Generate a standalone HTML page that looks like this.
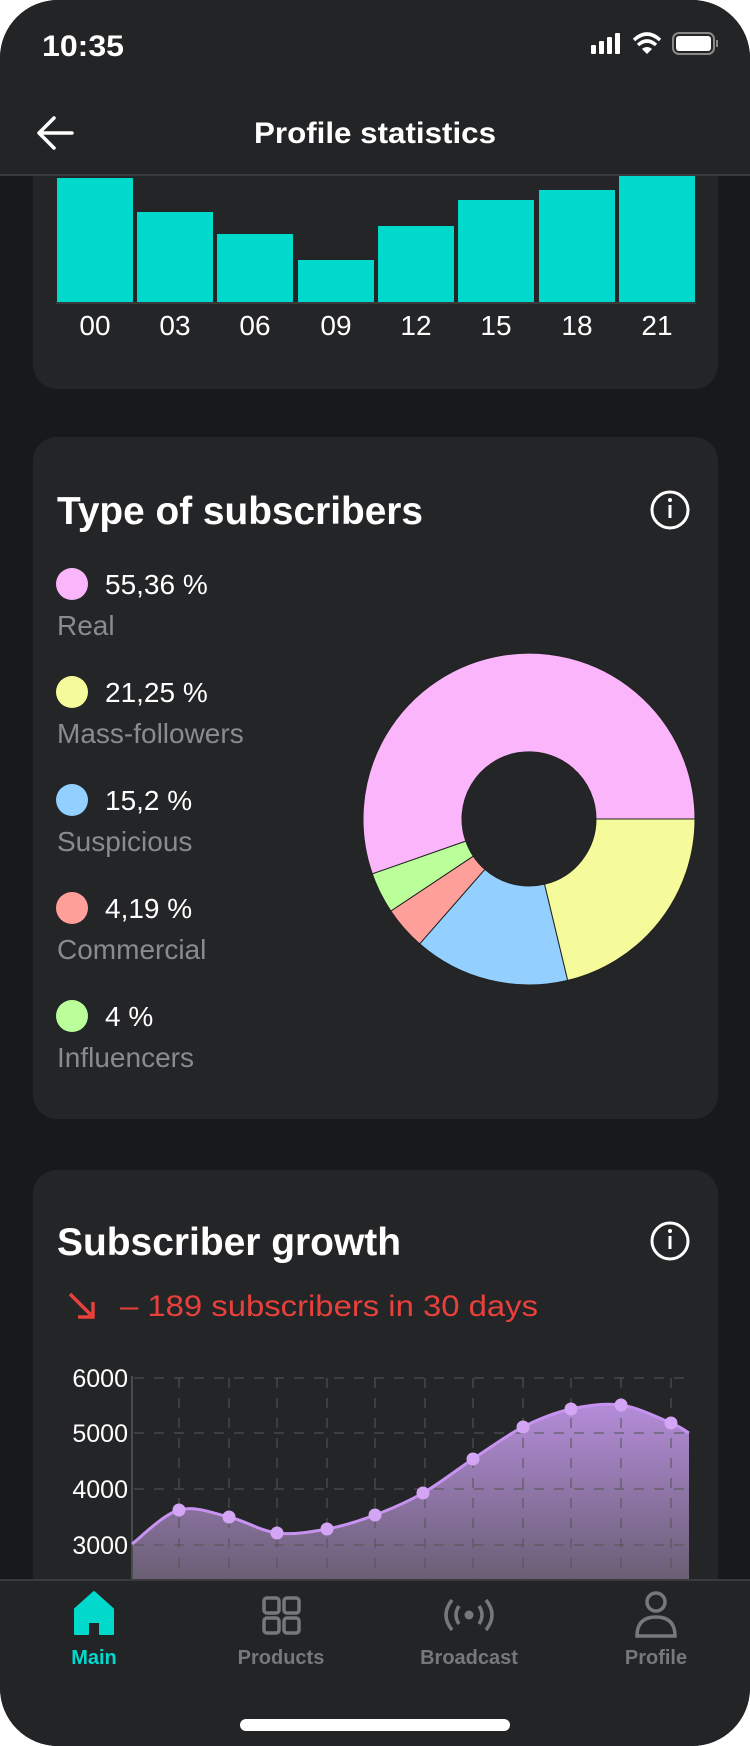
<!DOCTYPE html>
<html><head><meta charset="utf-8"><style>
*{margin:0;padding:0;box-sizing:border-box}
html,body{width:750px;height:1746px;background:#fff;overflow:hidden}
.ph{position:absolute;left:0;top:0;width:750px;height:1746px;background:#18191b;border-radius:58px;overflow:hidden;font-family:"Liberation Sans",sans-serif;color:#fff}
</style></head><body><div class="ph">
<svg width="750" height="1746" style="position:absolute;left:0;top:0" font-family="Liberation Sans, sans-serif">
<defs><linearGradient id="g" x1="0" y1="0" x2="0" y2="1"><stop offset="0" stop-color="#b48cd9"/><stop offset="1" stop-color="#655c6e"/></linearGradient></defs>
<rect x="33" y="120" width="685" height="269" rx="24" fill="#242527"/>
<g fill="#00d9cc">
<rect x="57" y="178" width="76" height="124"/><rect x="137" y="212" width="76" height="90"/>
<rect x="217" y="234" width="76" height="68"/><rect x="298" y="260" width="76" height="42"/>
<rect x="378" y="226" width="76" height="76"/><rect x="458" y="200" width="76" height="102"/>
<rect x="539" y="190" width="76" height="112"/><rect x="619" y="176" width="76" height="126"/>
</g>
<rect x="56" y="302" width="640" height="2" fill="#3a3b3d"/>
<g font-size="28" fill="#fff" text-anchor="middle">
<text x="95" y="335">00</text><text x="175" y="335">03</text><text x="255" y="335">06</text><text x="336" y="335">09</text>
<text x="416" y="335">12</text><text x="496" y="335">15</text><text x="577" y="335">18</text><text x="657" y="335">21</text></g>
<rect x="33" y="437" width="685" height="682" rx="24" fill="#242527"/>
<text x="57" y="524" font-size="39" font-weight="bold" fill="#fff" textLength="366" lengthAdjust="spacingAndGlyphs">Type of subscribers</text>
<circle cx="670" cy="510" r="18" fill="none" stroke="#fff" stroke-width="3"/><rect x="668.5" y="505" width="3" height="13" fill="#fff"/><circle cx="670" cy="500" r="2" fill="#fff"/>
<g font-size="28">
<circle cx="72" cy="584" r="16" fill="#fbb6fb"/><text x="105" y="594" fill="#fff">55,36 %</text><text x="57" y="635" fill="#8a8b8d">Real</text>
<circle cx="72" cy="692" r="16" fill="#f5fb9a"/><text x="105" y="702" fill="#fff">21,25 %</text><text x="57" y="743" fill="#8a8b8d">Mass-followers</text>
<circle cx="72" cy="800" r="16" fill="#94d0ff"/><text x="105" y="810" fill="#fff">15,2 %</text><text x="57" y="851" fill="#8a8b8d">Suspicious</text>
<circle cx="72" cy="908" r="16" fill="#ff9f9a"/><text x="105" y="918" fill="#fff">4,19 %</text><text x="57" y="959" fill="#8a8b8d">Commercial</text>
<circle cx="72" cy="1016" r="16" fill="#baff9a"/><text x="105" y="1026" fill="#fff">4 %</text><text x="57" y="1067" fill="#8a8b8d">Influencers</text>
</g>
<g stroke="#222" stroke-width="1">
<path d="M695 819 A166 166 0 1 0 372.3 873.9 L465.8 841.1 A67 67 0 1 1 596 819 Z" fill="#fbb6fb"/>
<path d="M372.3 873.9 A166 166 0 0 0 390.9 911.1 L473.3 856.2 A67 67 0 0 1 465.8 841.1 Z" fill="#baff9a"/>
<path d="M390.9 911.1 A166 166 0 0 0 419.7 943.9 L484.9 869.4 A67 67 0 0 1 473.3 856.2 Z" fill="#ff9f9a"/>
<path d="M419.7 943.9 A166 166 0 0 0 567.7 980.4 L544.6 884.2 A67 67 0 0 1 484.9 869.4 Z" fill="#94d0ff"/>
<path d="M567.7 980.4 A166 166 0 0 0 695 819 L596 819 A67 67 0 0 1 544.6 884.2 Z" fill="#f5fb9a"/>
</g>
<rect x="33" y="1170" width="685" height="500" rx="24" fill="#242527"/>
<text x="57" y="1255" font-size="39" font-weight="bold" fill="#fff" textLength="344" lengthAdjust="spacingAndGlyphs">Subscriber growth</text>
<circle cx="670" cy="1241" r="18" fill="none" stroke="#fff" stroke-width="3"/><rect x="668.5" y="1236" width="3" height="13" fill="#fff"/><circle cx="670" cy="1231" r="2" fill="#fff"/>
<path d="M70 1294 L92 1316 M78 1317 L93 1317 L93 1302" stroke="#e8413c" stroke-width="3.5" fill="none"/>
<text x="120" y="1316" font-size="30" fill="#e8413c" textLength="418" lengthAdjust="spacingAndGlyphs">– 189 subscribers in 30 days</text>
<g font-size="25" fill="#fff" text-anchor="end">
<text x="128" y="1387">6000</text><text x="128" y="1442">5000</text><text x="128" y="1498">4000</text><text x="128" y="1554">3000</text></g>
<path d="M132 1544 C139.8 1538.3 162.8 1514.5 179 1510 C195.2 1505.5 212.7 1513.2 229 1517 C245.3 1520.8 260.7 1531 277 1533 C293.3 1535 310.7 1532 327 1529 C343.3 1526 359 1521 375 1515 C391 1509 406.7 1502.3 423 1493 C439.3 1483.7 456.3 1470 473 1459 C489.7 1448 506.7 1435.3 523 1427 C539.3 1418.7 554.7 1412.7 571 1409 C587.3 1405.3 604.3 1402.7 621 1405 C637.7 1407.3 659.7 1418.3 671 1423 C682.3 1427.7 686 1431.3 689 1433 L689 1590 L132 1590 Z" fill="url(#g)"/>
<g stroke="#55565a" stroke-opacity="0.7" stroke-width="1.5" stroke-dasharray="10 10">
<path d="M134 1378H694M134 1433H694M134 1489H694M134 1545H694"/>
<path d="M179 1378V1590M229 1378V1590M277 1378V1590M327 1378V1590M375 1378V1590M425 1378V1590M473 1378V1590M523 1378V1590M571 1378V1590M621 1378V1590M671 1378V1590"/>
</g>
<path d="M132 1376V1590" stroke="#4a4b4e" stroke-width="2"/>
<path d="M132 1544 C139.8 1538.3 162.8 1514.5 179 1510 C195.2 1505.5 212.7 1513.2 229 1517 C245.3 1520.8 260.7 1531 277 1533 C293.3 1535 310.7 1532 327 1529 C343.3 1526 359 1521 375 1515 C391 1509 406.7 1502.3 423 1493 C439.3 1483.7 456.3 1470 473 1459 C489.7 1448 506.7 1435.3 523 1427 C539.3 1418.7 554.7 1412.7 571 1409 C587.3 1405.3 604.3 1402.7 621 1405 C637.7 1407.3 659.7 1418.3 671 1423 C682.3 1427.7 686 1431.3 689 1433" fill="none" stroke="#c792f0" stroke-width="3"/>
<g fill="#d4a5f5">
<circle cx="179" cy="1510" r="6.5"/><circle cx="229" cy="1517" r="6.5"/><circle cx="277" cy="1533" r="6.5"/><circle cx="327" cy="1529" r="6.5"/><circle cx="375" cy="1515" r="6.5"/><circle cx="423" cy="1493" r="6.5"/><circle cx="473" cy="1459" r="6.5"/><circle cx="523" cy="1427" r="6.5"/><circle cx="571" cy="1409" r="6.5"/><circle cx="621" cy="1405" r="6.5"/><circle cx="671" cy="1423" r="6.5"/></g>
<rect x="0" y="0" width="750" height="174" fill="#232426"/>
<rect x="0" y="174" width="750" height="2" fill="#3a3b3d"/>
<text x="42" y="56" font-size="30" font-weight="bold" fill="#fff" textLength="82" lengthAdjust="spacingAndGlyphs">10:35</text>
<g fill="#fff"><rect x="591" y="45" width="5" height="9" rx="1"/><rect x="599" y="41" width="5" height="13" rx="1"/><rect x="607" y="37" width="5" height="17" rx="1"/><rect x="615" y="33" width="5" height="21" rx="1"/></g>
<path d="M634 40 Q647 28 660 40 M638 45 Q647 37 656 45" stroke="#fff" stroke-width="3.5" fill="none"/><path d="M642 49 L647 54 L652 49 Q647 45 642 49Z" fill="#fff"/>
<rect x="673" y="33" width="41" height="21" rx="6" fill="none" stroke="#888" stroke-width="2"/><rect x="676" y="36" width="35" height="15" rx="3" fill="#fff"/><rect x="716" y="40" width="2" height="7" fill="#888"/>
<path d="M72 133H40M54 118L39 133L54 148" stroke="#fff" stroke-width="3.5" fill="none" stroke-linecap="round" stroke-linejoin="round"/>
<text x="375" y="143" font-size="30" font-weight="bold" fill="#fff" text-anchor="middle" textLength="242" lengthAdjust="spacingAndGlyphs">Profile statistics</text>
<rect x="0" y="1580" width="750" height="166" fill="#232426"/>
<rect x="0" y="1579" width="750" height="2" fill="#3a3b3d"/>
<path d="M75 1609 L94 1592 L113 1609 V1634 H100 V1622 H88 V1634 H75 Z" fill="#00d9cc" stroke="#00d9cc" stroke-width="2" stroke-linejoin="round"/>
<g fill="none" stroke="#77787b" stroke-width="3.5">
<rect x="264" y="1598" width="15" height="15" rx="3"/><rect x="284" y="1598" width="15" height="15" rx="3"/><rect x="264" y="1618" width="15" height="15" rx="3"/><rect x="284" y="1618" width="15" height="15" rx="3"/>
<path d="M452 1600 Q440 1615 452 1630 M486 1600 Q498 1615 486 1630 M459 1606 Q453 1615 459 1624 M479 1606 Q485 1615 479 1624"/>
<circle cx="656" cy="1602" r="9"/><path d="M637 1636 Q637 1617 656 1617 Q675 1617 675 1636 Z"/>
</g>
<circle cx="469" cy="1615" r="4.5" fill="#77787b"/>
<g font-size="20" font-weight="bold" text-anchor="middle">
<text x="94" y="1664" fill="#00d9cc">Main</text><text x="281" y="1664" fill="#77787b">Products</text><text x="469" y="1664" fill="#77787b">Broadcast</text><text x="656" y="1664" fill="#77787b">Profile</text></g>
<rect x="240" y="1719" width="270" height="12" rx="6" fill="#fff"/>
</svg>
</div></body></html>
